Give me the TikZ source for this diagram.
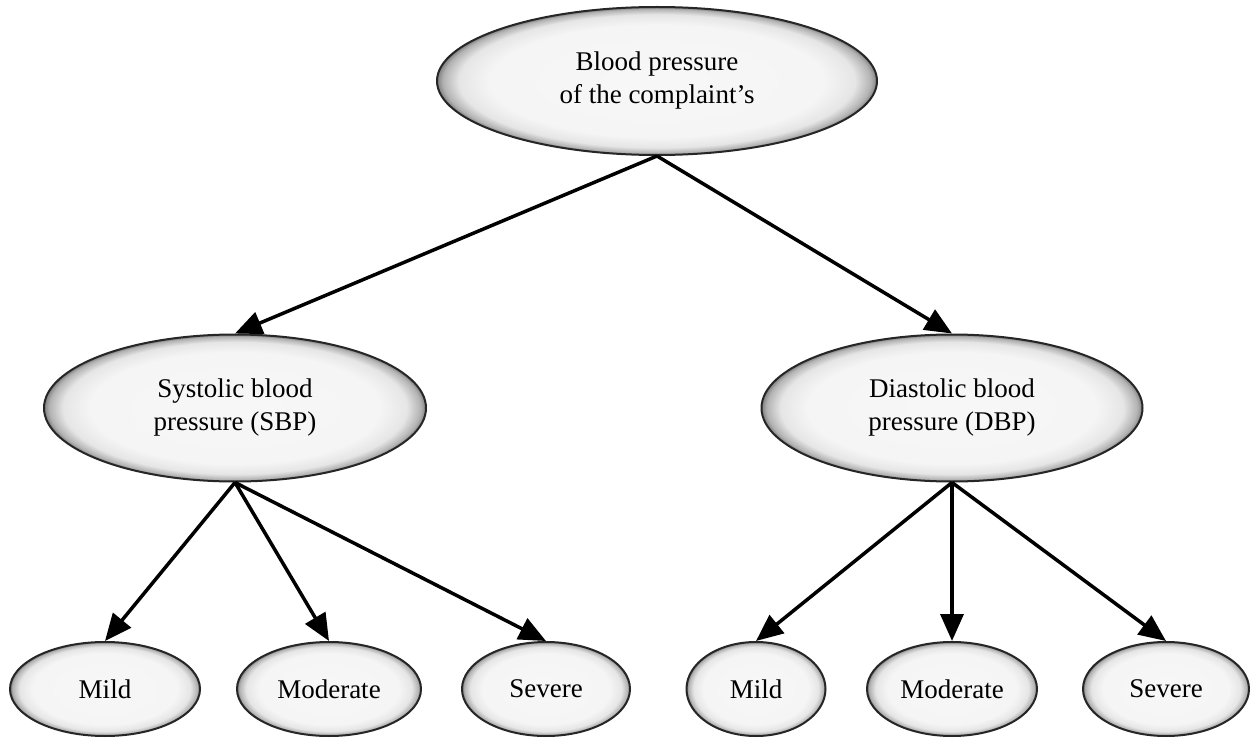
\documentclass[tikz,border=0pt]{standalone}
\usepackage{fontspec}
\setmainfont{Liberation Serif}
\usetikzlibrary{shapes.geometric,arrows.meta}

% soft inner glow: pale centre, darker rim (25bp is the shape's edge)
\pgfdeclareradialshading{rimglow}{\pgfpoint{0bp}{0bp}}{%
  color(0bp)=(black!3);
  color(19bp)=(black!4);
  color(22.5bp)=(black!10);
  color(24.3bp)=(black!30);
  color(25bp)=(black!50);
  color(50bp)=(black!50)}

\tikzset{
  bubble/.style={ellipse, draw=black!85, line width=2pt, shading=rimglow,
    inner sep=0pt, align=center, font=\fontsize{27}{33}\selectfont},
  link/.style={line width=3.5pt, -{Triangle[length=27pt,width=23pt]}}
}

\begin{document}
\begin{tikzpicture}[x=1pt,y=-1pt]
  \useasboundingbox (0,0) rectangle (1251,738);

  % root
  \node[bubble, minimum width=440, minimum height=148] (root) at (657,81)
    {Blood pressure\\of the complaint’s};

  % second level
  \node[bubble, minimum width=382, minimum height=147] (sbp) at (235,408)
    {Systolic blood\\pressure (SBP)};
  \node[bubble, minimum width=381, minimum height=147] (dbp) at (952,408)
    {Diastolic blood\\pressure (DBP)};

  % grades under SBP
  \node[bubble, minimum width=190, minimum height=94] (smild) at (105,689) {Mild};
  \node[bubble, minimum width=184, minimum height=94] (smod) at (329,689) {Moderate};
  \node[bubble, minimum width=168, minimum height=94] (ssev) at (546,689) {Severe};

  % grades under DBP
  \node[bubble, minimum width=139, minimum height=94] (dmild) at (756,689) {Mild};
  \node[bubble, minimum width=170, minimum height=94] (dmod) at (952,689) {Moderate};
  \node[bubble, minimum width=166, minimum height=94] (dsev) at (1166,689) {Severe};

  % connectors
  \draw[link] (root.south) -- (sbp.north);
  \draw[link] (root.south) -- (dbp.north);
  \draw[link] (sbp.south) -- (smild.north);
  \draw[link] (sbp.south) -- (smod.north);
  \draw[link] (sbp.south) -- (ssev.north);
  \draw[link] (dbp.south) -- (dmild.north);
  \draw[link] (dbp.south) -- (dmod.north);
  \draw[link] (dbp.south) -- (dsev.north);
\end{tikzpicture}
\end{document}
